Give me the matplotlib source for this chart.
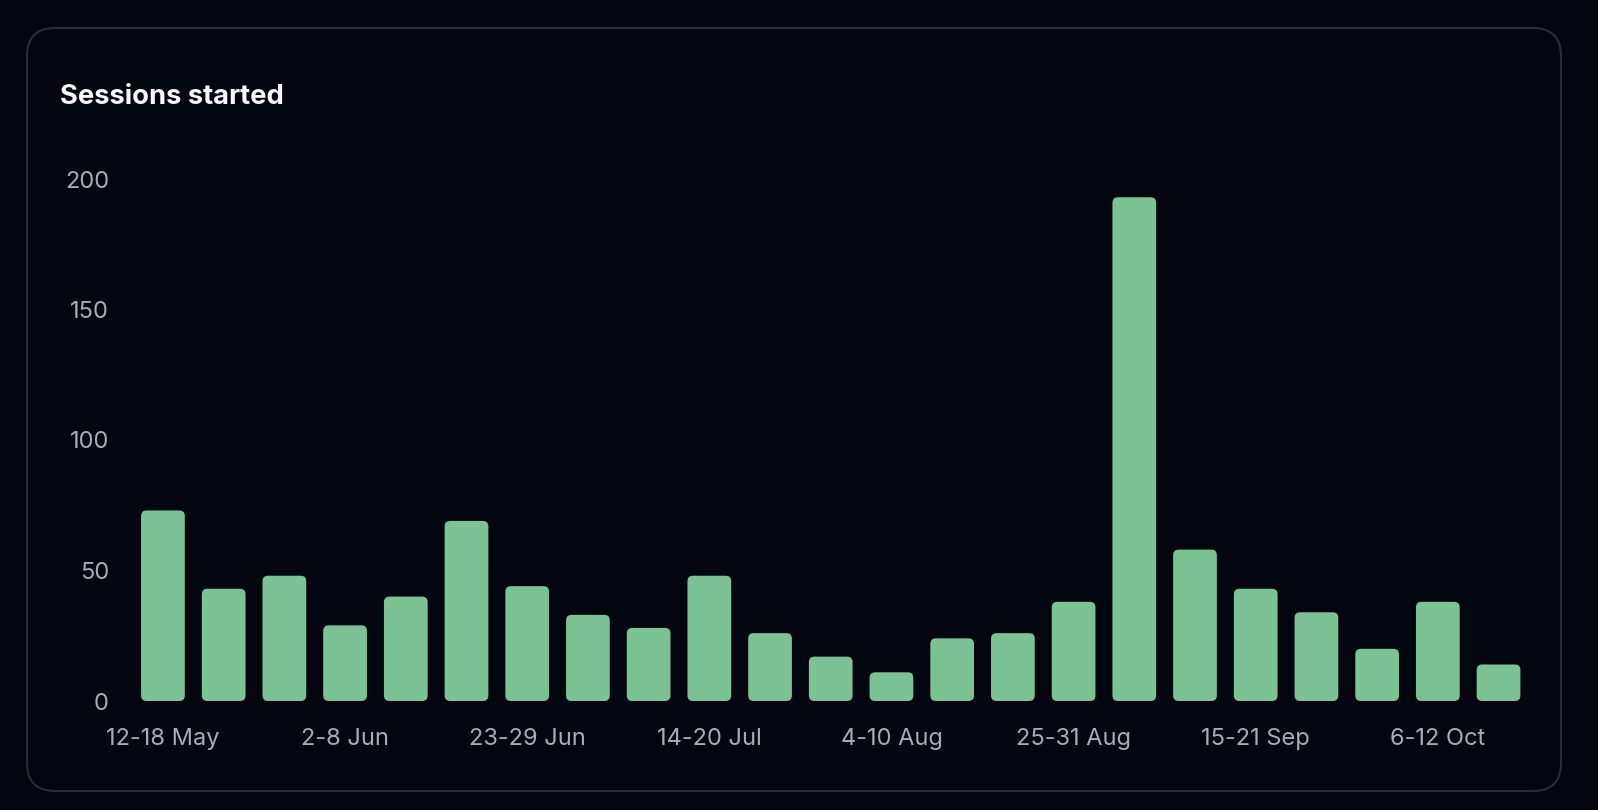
import matplotlib
matplotlib.use("Agg")
import matplotlib.pyplot as plt
from matplotlib.patches import FancyBboxPatch

weeks = ["12-18 May", "19-25 May", "26 May-1 Jun", "2-8 Jun", "9-15 Jun", "16-22 Jun",
         "23-29 Jun", "30 Jun-6 Jul", "7-13 Jul", "14-20 Jul", "21-27 Jul", "28 Jul-3 Aug",
         "4-10 Aug", "11-17 Aug", "18-24 Aug", "25-31 Aug", "1-7 Sep", "8-14 Sep",
         "15-21 Sep", "22-28 Sep", "29 Sep-5 Oct", "6-12 Oct", "13-19 Oct"]
sessions = [73, 43, 48, 29, 40, 69, 44, 33, 28, 48, 26, 17, 11, 24, 26, 38, 193, 58,
            43, 34, 20, 38, 14]
yticks = [0, 50, 100, 150, 200]

BG = "#03060f"
CARD_EDGE = "#282d37"
BAR = "#7bc394"
TICK = "#a7acb8"

W, H = 1598, 810
fig = plt.figure(figsize=(W / 100, H / 100), dpi=100)
fig.patch.set_facecolor(BG)

# card
card = FancyBboxPatch((27 / W, (H - 791) / H), (1561 - 27) / W, (791 - 28) / H,
                      boxstyle=f"round,pad=0,rounding_size={28 / W}",
                      mutation_aspect=W / H, transform=fig.transFigure,
                      facecolor=BG, edgecolor=CARD_EDGE, linewidth=1.5, zorder=-5)
fig.patches.append(card)

fig.text(60 / W, 1 - 97 / H, "Sessions started", color="#f7f7f7", fontsize=19.7,
         fontweight="bold", family=["Inter", "DejaVu Sans"], va="center", ha="left")

left_px, right_px = 132.6, 1528.9
bottom_px, top_px = 701, 179
ax = fig.add_axes([left_px / W, (H - bottom_px) / H, (right_px - left_px) / W,
                   (bottom_px - top_px) / H])
ax.set_zorder(2)
ax.set_facecolor("none")
x = list(range(len(weeks)))
bars = ax.bar(x, sessions, width=0.72, color=BAR)
ax.set_xlim(-0.5, len(weeks) - 0.5)
ax.set_ylim(0, 200)

# round the bars
x_px_per_unit = (right_px - left_px) / len(weeks)
y_px_per_unit = (bottom_px - top_px) / 200
r_px = 5.5
for b in bars:
    bx, by = b.get_x(), b.get_y()
    bw, bh = b.get_width(), b.get_height()
    b.set_visible(False)
    p = FancyBboxPatch((bx, by), bw, bh,
                       boxstyle=f"round,pad=0,rounding_size={r_px / x_px_per_unit}",
                       mutation_aspect=x_px_per_unit / y_px_per_unit,
                       facecolor=BAR, edgecolor="none", clip_on=False)
    ax.add_patch(p)

for s in ax.spines.values():
    s.set_visible(False)
ax.set_xticks(x[::3])
ax.set_xticklabels(weeks[::3])
ax.set_yticks(yticks)
ax.tick_params(axis="both", length=0, colors=TICK, labelsize=17)
ax.tick_params(axis="x", pad=19.5)
ax.tick_params(axis="y", pad=17)
for lab in ax.get_xticklabels() + ax.get_yticklabels():
    lab.set_family(["Inter", "DejaVu Sans"])
    lab.set_color(TICK)

fig.savefig("out.png", dpi=100, facecolor=BG)
